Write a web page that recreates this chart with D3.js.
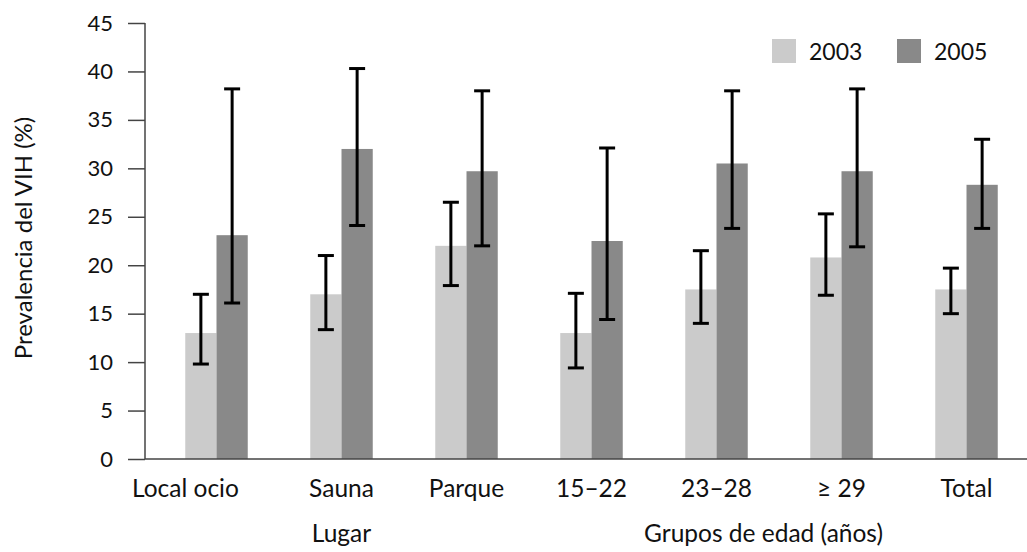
<!DOCTYPE html>
<html><head><meta charset="utf-8">
<script src="https://cdn.jsdelivr.net/npm/d3@7"></script>
<style>
html,body{margin:0;padding:0;background:#fff;}
svg{display:block;font-family:Lato, "Open Sans", sans-serif;}
</style></head>
<body><svg id="c" width="1027" height="552"></svg>
<script>
const categories = ["Local ocio","Sauna","Parque","15\u201322","23\u201328","\u2265 29","Total"];
const seriesNames = ["2003","2005"];
const values2003 = [13.0,17.0,22.0,13.0,17.5,20.8,17.5];
const low2003   = [9.8,13.35,17.9,9.4,14.0,16.9,15.0];
const high2003  = [17.0,21.0,26.5,17.1,21.5,25.3,19.7];
const values2005 = [23.1,32.0,29.7,22.5,30.5,29.7,28.3];
const low2005   = [16.1,24.1,22.0,14.4,23.8,21.9,23.8];
const high2005  = [38.2,40.3,38.0,32.1,38.0,38.2,33.0];
const yTicks = [0,5,10,15,20,25,30,35,40,45];
const groupLabels = ["Lugar","Grupos de edad (años)"];
const colors = ["#cbcbcb","#898989"];

const svg = d3.select("#c");
const x0 = 145, y0 = 459, yTop = 23;
const x = d3.scaleBand().domain(categories).range([154,1029]).paddingInner(0.5).paddingOuter(0.25);
const xs = d3.scaleBand().domain(seriesNames).range([0,x.bandwidth()]);
const y = d3.scaleLinear().domain([0,45]).range([y0,yTop]);

const data = categories.map((c,i)=>[
  {c, s:"2003", v:values2003[i], lo:low2003[i], hi:high2003[i]},
  {c, s:"2005", v:values2005[i], lo:low2005[i], hi:high2005[i]}
]).flat();

// bars
svg.append("g").selectAll("rect").data(data).join("rect")
  .attr("x",d=>x(d.c)+xs(d.s))
  .attr("y",d=>y(d.v))
  .attr("width",xs.bandwidth())
  .attr("height",d=>y(0)-y(d.v))
  .attr("fill",d=>colors[seriesNames.indexOf(d.s)]);

// error bars
const eb = svg.append("g").attr("stroke","#000").attr("stroke-width",3);
data.forEach(d=>{
  const cx = x(d.c)+xs(d.s)+xs.bandwidth()/2;
  eb.append("line").attr("x1",cx).attr("x2",cx).attr("y1",y(d.lo)).attr("y2",y(d.hi));
  eb.append("line").attr("x1",cx-8).attr("x2",cx+8).attr("y1",y(d.lo)).attr("y2",y(d.lo));
  eb.append("line").attr("x1",cx-8).attr("x2",cx+8).attr("y1",y(d.hi)).attr("y2",y(d.hi));
});

// y axis
const ya = svg.append("g").attr("transform",`translate(${x0},0)`)
  .call(d3.axisLeft(y).tickValues(yTicks).tickSize(17).tickPadding(15));
ya.select(".domain").attr("stroke","#444").attr("stroke-width",1.5).attr("d",`M0,${y0}V${yTop}`);
ya.selectAll(".tick line").attr("stroke","#444").attr("stroke-width",1.5);
ya.selectAll(".tick text").attr("font-size",22).attr("fill","#111").attr("font-family","Lato");

// x axis line
svg.append("line").attr("x1",x0).attr("x2",1027).attr("y1",y0).attr("y2",y0)
  .attr("stroke","#444").attr("stroke-width",1.5);

// category labels (first one sits left of its bars in the original)
svg.append("g").selectAll("text").data(categories).join("text")
  .attr("x",(d,i)=> i===0 ? 132 : x(d)+x.bandwidth()/2)
  .attr("y",497)
  .attr("text-anchor",(d,i)=> i===0 ? "start" : "middle")
  .attr("font-size",24.5).attr("fill","#111").text(d=>d);

// group labels
svg.append("text").attr("x",x("Sauna")+x.bandwidth()/2).attr("y",542)
  .attr("text-anchor","middle").attr("font-size",24.5).attr("fill","#111").text(groupLabels[0]);
svg.append("text").attr("x",x("23\u201328")+x.bandwidth()/2+47).attr("y",542)
  .attr("text-anchor","middle").attr("font-size",24.5).attr("fill","#111").text(groupLabels[1]);

// y title
svg.append("text").attr("transform",`translate(32,238) rotate(-90)`)
  .attr("text-anchor","middle").attr("font-size",24).attr("fill","#111").text("Prevalencia del VIH (%)");

// legend
const lg = svg.append("g");
seriesNames.forEach((s,i)=>{
  const lx = 772 + i*125;
  lg.append("rect").attr("x",lx).attr("y",39).attr("width",24).attr("height",24).attr("fill",colors[i]);
  lg.append("text").attr("x",lx+37).attr("y",59.5).attr("font-size",23).attr("fill","#111").text(s);
});
</script></body></html>
